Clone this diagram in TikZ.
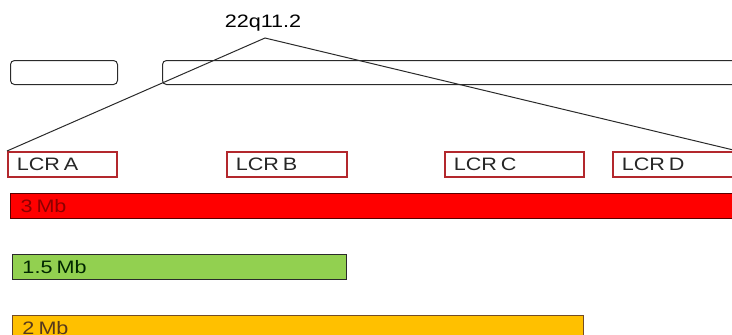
\documentclass[tikz,border=0pt]{standalone}
\usepackage{fontspec}
\setmainfont{Liberation Sans}
\usepackage{graphicx}
\definecolor{lcrred}{HTML}{B3282D}
\definecolor{outl}{HTML}{2A2A2A}
\definecolor{barred}{HTML}{FF0000}
\definecolor{bargreen}{HTML}{92D050}
\definecolor{barorange}{HTML}{FFC000}
\newcommand{\lbl}[1]{\scalebox{1.2}[1]{\fontsize{18}{20}\selectfont #1}}
\tikzset{
  chrom/.style={draw=outl, line width=1pt, rounded corners=4pt, anchor=north west, inner sep=0pt, minimum height=24pt},
  lcr/.style={draw=lcrred, line width=1.6pt, fill=white, anchor=north west, minimum height=25pt, inner xsep=9pt, inner ysep=0pt, align=left, text=black!85},
  bar/.style={line width=1pt, anchor=north west, minimum height=25pt, inner xsep=10pt, inner ysep=0pt, align=left},
  conn/.style={draw=outl, line width=1pt}
}
\begin{document}
\begin{tikzpicture}[x=1pt,y=-1pt]
\useasboundingbox (0,0) rectangle (732,335);
\clip (0,0) rectangle (732,335);
% chromosome
\node[chrom, minimum width=107pt] (chromL) at (10,60) {};
\node[chrom, minimum width=580pt] (chromR) at (162,60) {};
% label
\node[inner sep=0pt] (q) at (263,23) {\lbl{22q11.2}};
\coordinate (apex) at (265,38);
% LCR boxes
\node[lcr, text width=91pt] (lcra) at (7,151) {\lbl{LCR A}};
\node[lcr, text width=102pt] (lcrb) at (226,151) {\lbl{LCR B}};
\node[lcr, text width=121pt] (lcrc) at (444,151) {\lbl{LCR C}};
\node[lcr, text width=106pt] (lcrd) at (612,151) {\lbl{LCR D}};
% connectors
\draw[conn] (lcra.north west) -- (apex) -- (lcrd.north east);
% bars
\node[bar, draw=red!35!black, fill=barred, text=red!55!black, text width=740pt] (b3) at (10,193) {\lbl{3 Mb}};
\node[bar, draw=outl, fill=bargreen, text=green!15!black, text width=314pt] (b15) at (12,254) {\lbl{1.5 Mb}};
\node[bar, draw=brown!60!black, fill=barorange, text=brown!45!black, text width=551pt] (b2) at (12,315) {\lbl{2 Mb}};
\end{tikzpicture}
\end{document}
